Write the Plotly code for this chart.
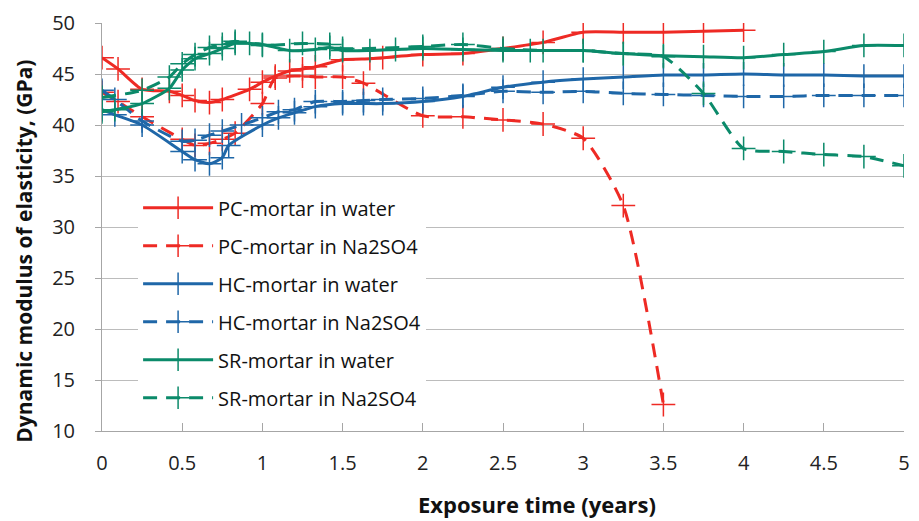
import plotly.graph_objects as go

# ---- data ----
pc_w_t = [0, 0.1, 0.25, 0.42, 0.5, 0.58, 0.67, 0.75, 0.92, 1.0, 1.08, 1.17, 1.25, 1.33, 1.5, 1.67, 1.75, 2.0, 2.25, 2.5, 2.75, 3.0, 3.25, 3.5, 3.75, 4.0]
pc_w_v = [46.6, 45.5, 43.5, 43.3, 42.9, 42.4, 42.2, 42.5, 43.5, 44.2, 44.8, 45.3, 45.5, 45.7, 46.4, 46.5, 46.6, 46.9, 47.0, 47.5, 48.1, 49.1, 49.1, 49.1, 49.2, 49.3]

pc_s_t = [0, 0.1, 0.25, 0.5, 0.58, 0.67, 0.75, 0.83, 1.0, 1.08, 1.25, 1.33, 1.5, 1.63, 2.0, 2.25, 2.5, 2.75, 3.0, 3.25, 3.5]
pc_s_v = [43.2, 42.3, 40.8, 38.6, 38.0, 38.2, 38.6, 39.2, 42.1, 44.6, 44.8, 44.7, 44.7, 44.1, 40.9, 40.8, 40.5, 40.1, 38.7, 32.1, 12.6]

hc_w_t = [0, 0.08, 0.25, 0.5, 0.58, 0.67, 0.75, 0.79, 1.0, 1.1, 1.2, 1.33, 1.5, 1.63, 1.75, 2.0, 2.25, 2.5, 2.75, 3.0, 3.25, 3.5, 3.75, 4.0, 4.25, 4.5, 4.75, 5.0]
hc_w_v = [41.5, 41.0, 40.0, 37.4, 36.6, 36.2, 36.8, 38.0, 40.0, 40.7, 41.2, 41.8, 42.1, 42.1, 42.1, 42.3, 42.8, 43.7, 44.2, 44.5, 44.7, 44.9, 44.9, 45.0, 44.9, 44.9, 44.8, 44.8]

hc_s_t = [0, 0.08, 0.25, 0.5, 0.58, 0.67, 0.75, 0.87, 1.0, 1.1, 1.2, 1.33, 1.5, 1.63, 1.75, 2.0, 2.25, 2.5, 2.75, 3.0, 3.25, 3.5, 3.75, 4.0, 4.25, 4.5, 4.75, 5.0]
hc_s_v = [43.4, 42.5, 40.4, 38.4, 38.5, 39.0, 39.4, 40.0, 40.7, 41.3, 41.5, 42.3, 42.3, 42.4, 42.5, 42.6, 42.9, 43.3, 43.2, 43.3, 43.1, 43.0, 42.9, 42.8, 42.8, 42.9, 42.9, 42.9]

sr_w_t = [0, 0.08, 0.25, 0.42, 0.5, 0.58, 0.67, 0.75, 0.83, 0.92, 1.0, 1.17, 1.33, 1.42, 1.5, 1.67, 1.83, 2.0, 2.25, 2.5, 2.67, 3.0, 3.25, 3.5, 3.75, 4.0, 4.25, 4.5, 4.75, 5.0]
sr_w_v = [41.3, 41.5, 42.1, 43.6, 45.4, 46.5, 47.0, 47.5, 48.0, 48.0, 47.9, 47.3, 47.4, 47.6, 47.3, 47.3, 47.4, 47.5, 47.4, 47.3, 47.3, 47.3, 47.0, 46.8, 46.7, 46.6, 46.9, 47.2, 47.8, 47.8]

sr_s_t = [0, 0.25, 0.42, 0.5, 0.58, 0.67, 0.75, 0.83, 1.0, 1.25, 1.42, 1.5, 2.0, 2.25, 2.5, 2.75, 3.0, 3.25, 3.5, 3.75, 4.0, 4.25, 4.5, 4.75, 5.0]
sr_s_v = [42.7, 43.4, 44.7, 46.0, 46.9, 47.6, 47.9, 48.2, 47.8, 48.0, 47.9, 47.5, 47.7, 47.9, 47.5, 47.3, 47.3, 47.0, 46.7, 43.1, 37.7, 37.4, 37.1, 36.9, 36.0]

x_ticks = [0, 0.5, 1, 1.5, 2, 2.5, 3, 3.5, 4, 4.5, 5]
x_tick_labels = ["0", "0.5", "1", "1.5", "2", "2.5", "3", "3.5", "4", "4.5", "5"]
y_ticks = [10, 15, 20, 25, 30, 35, 40, 45, 50]

series = [
    ("PC-mortar in water", pc_w_t, pc_w_v, "#ee2a24", "solid"),
    ("PC-mortar in Na2SO4", pc_s_t, pc_s_v, "#ee2a24", "14px,9px"),
    ("HC-mortar in water", hc_w_t, hc_w_v, "#1f67a8", "solid"),
    ("HC-mortar in Na2SO4", hc_s_t, hc_s_v, "#1f67a8", "14px,9px"),
    ("SR-mortar in water", sr_w_t, sr_w_v, "#0b8a6a", "solid"),
    ("SR-mortar in Na2SO4", sr_s_t, sr_s_v, "#0b8a6a", "14px,9px"),
]

FONT = "Open Sans"
fig = go.Figure()
for i, (name, t, v, col, dash) in enumerate(series):
    fig.add_trace(go.Scatter(
        x=t, y=v, name=name, mode="lines+markers", legendgroup=f"g{i}",
        line=dict(color=col, width=3, dash=dash, shape="spline", smoothing=0.6),
        marker=dict(symbol="cross-thin", size=17, line=dict(color=col, width=1.5)),
    ))

fig.update_layout(
    width=919, height=521,
    margin=dict(l=102, r=9, t=21, b=90),
    paper_bgcolor="white", plot_bgcolor="white",
    font=dict(family=FONT, size=18, color="#222222"),
    showlegend=True,
    legend=dict(x=0.045, y=0.595, xanchor="left", yanchor="top",
                bgcolor="white", borderwidth=0, itemwidth=70,
                tracegroupgap=9, font=dict(size=20, family=FONT, color="#111111")),
    xaxis=dict(range=[0, 5], tickvals=x_ticks, ticktext=x_tick_labels,
               showgrid=False, zeroline=False, showline=True, linecolor="#a6a6a6", linewidth=1,
               ticks="inside", ticklen=8, tickcolor="#a6a6a6", ticklabelstandoff=14,
               tickfont=dict(size=20, family=FONT, color="#222222")),
    yaxis=dict(range=[10, 50], tickvals=y_ticks,
               showgrid=True, gridcolor="#bcbcbc", gridwidth=1, zeroline=False,
               showline=True, linecolor="#a6a6a6", linewidth=1,
               ticks="outside", ticklen=6, tickcolor="#a6a6a6", ticklabelstandoff=16,
               tickfont=dict(size=20, family=FONT, color="#222222")),
    annotations=[
        dict(text="<b>Exposure time (years)</b>", x=0.542, y=-0.18, xref="paper", yref="paper",
             xanchor="center", yanchor="middle", showarrow=False,
             font=dict(size=22, family=FONT, color="#111111")),
        dict(text="<b>Dynamic modulus of elasticity, (GPa)</b>", x=-0.097, y=0.44, xref="paper", yref="paper",
             xanchor="center", yanchor="middle", showarrow=False, textangle=-90,
             font=dict(size=21, family=FONT, color="#111111")),
    ],
)

fig.write_html("out.html")
